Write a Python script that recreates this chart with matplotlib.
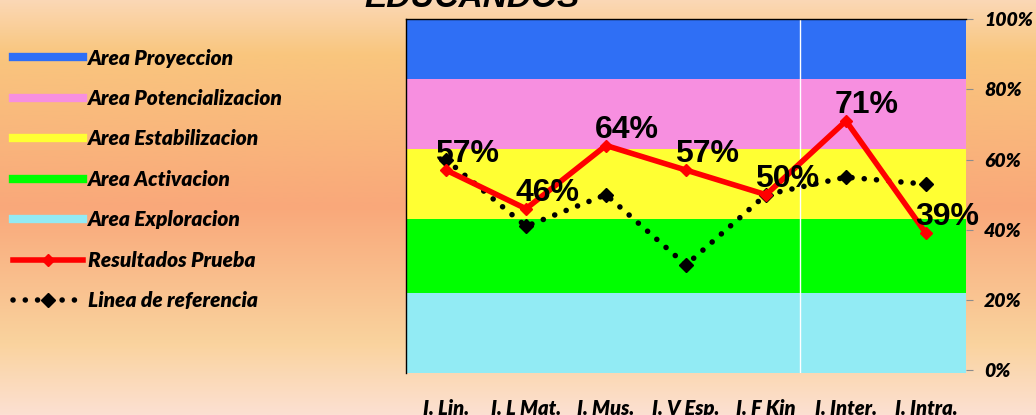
import matplotlib.pyplot as plt
import numpy as np
from matplotlib.colors import LinearSegmentedColormap
from matplotlib.lines import Line2D

categories = ['I. Lin.', 'I. L Mat.', 'I. Mus.', 'I. V Esp.', 'I. F Kin', 'I. Inter.', 'I. Intra.']
resultados = [0.57, 0.46, 0.64, 0.57, 0.50, 0.71, 0.39]
referencia = [0.60, 0.41, 0.50, 0.30, 0.50, 0.55, 0.53]
band_names = ['Area Exploracion', 'Area Activacion', 'Area Estabilizacion',
              'Area Potencializacion', 'Area Proyeccion']
band_tops = [0.22, 0.43, 0.63, 0.83, 1.00]
band_colors = ['#92EBF4', '#00FF00', '#FFFF33', '#F78FE0', '#2F6FF5']

fig = plt.figure(figsize=(10.36, 4.15), dpi=100)

# background gradient
bg = fig.add_axes([0, 0, 1, 1], zorder=-10)
bg_cmap = LinearSegmentedColormap.from_list('bg', [
    (0.0, '#FBD8B6'), (0.13, '#F9C67E'), (0.5, '#F9A87A'),
    (0.83, '#FAD39E'), (1.0, '#FCE0D2')])
bg.imshow(np.linspace(0, 1, 256).reshape(-1, 1), aspect='auto', cmap=bg_cmap,
          extent=[0, 1, 0, 1])
bg.axis('off')

ax = fig.add_axes([406 / 1036, 1 - 373 / 415, 560 / 1036, 354 / 415])
x = np.arange(len(categories))
ax.set_xlim(-0.5, len(categories) - 0.5)
ax.set_ylim(-0.0074, 1.0)

lo = -0.0074
for top, c in zip(band_tops, band_colors):
    ax.axhspan(lo, top, color=c, lw=0, zorder=0)
    lo = top
ax.axvline(4.43, color='white', lw=1, zorder=1)

ax.plot(x, referencia, color='black', lw=4, linestyle=(0, (0.01, 2.2)),
        dash_capstyle='round', marker='D', markersize=7.5, zorder=3)
ax.plot(x, resultados, color='#FF0000', lw=4, marker='D', markersize=6,
        solid_joinstyle='miter', zorder=4)

for xi, v in zip(x, resultados):
    ax.annotate(f'{v:.0%}', (xi, v), xytext=(21, 16), textcoords='offset pixels',
                ha='center', va='center', fontsize=23, fontweight='bold',
                family='Liberation Sans', zorder=5)

ax.yaxis.tick_right()
ax.set_yticks(np.arange(0, 1.01, 0.2))
ax.set_yticklabels([f'{int(round(t * 100))}%' for t in np.arange(0, 1.01, 0.2)])
ax.set_xticks(x)
ax.set_xticklabels(categories)
ax.tick_params(axis='y', length=5, color='#8C8C8C', pad=8)
ax.tick_params(axis='x', length=0, pad=19)
for lab in ax.get_yticklabels():
    lab.set_family('Lato')
    lab.set_fontweight('heavy')
    lab.set_fontstyle('italic')
    lab.set_fontsize(14)
for lab in ax.get_xticklabels():
    lab.set_family('Lato')
    lab.set_fontweight('heavy')
    lab.set_fontstyle('italic')
    lab.set_fontsize(14.5)
for s in ['right', 'bottom']:
    ax.spines[s].set_visible(False)
ax.spines['left'].set_linewidth(1)
ax.spines['top'].set_linewidth(1)

fig.text(472 / 1036, 1 - 7 / 415, 'EDUCANDOS', ha='center', va='baseline',
         fontsize=24, fontweight='bold', fontstyle='italic', family='Liberation Sans')

handles = [Line2D([], [], color=c, lw=6) for c in band_colors[::-1]]
handles.append(Line2D([], [], color='#FF0000', lw=4, marker='D', markersize=6))
handles.append(Line2D([], [], color='black', lw=4, linestyle=(0, (0.01, 2.2)),
                      dash_capstyle='round', marker='D', markersize=7.5))
labels = band_names[::-1] + ['Resultados Prueba', 'Linea de referencia']
fig.legend(handles, labels, loc='upper left', bbox_to_anchor=(0.0, 1 - 36 / 415),
           frameon=False, handlelength=3.4, handletextpad=0.2, labelspacing=1.03,
           borderaxespad=0.2,
           prop={'family': 'Lato', 'weight': 'heavy', 'style': 'italic', 'size': 15})

fig.savefig('out.png', dpi=100)
